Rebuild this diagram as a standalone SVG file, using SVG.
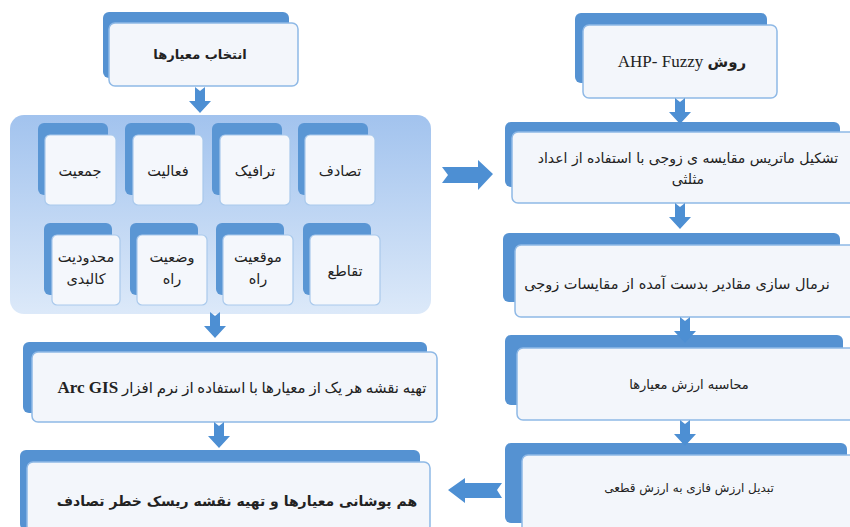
<svg xmlns="http://www.w3.org/2000/svg" width="850" height="527" viewBox="0 0 850 527">
<defs>
<linearGradient id="cg" x1="0" y1="0" x2="0" y2="1">
<stop offset="0" stop-color="#a2c3ee"/>
<stop offset="1" stop-color="#dce9f9"/>
</linearGradient>
<path id="dn" d="M-5,0 L0,4 L5,0 L5,14 L11,14 L0,26 L-11,14 L-5,14 Z"/>
</defs>
<style>
.back{fill:#5592d2;}
.front{fill:#f3f6fb;stroke:#8fb9e6;stroke-width:1.5;}
.sback{fill:#5a96d4;}
.sfront{fill:#f4f7fc;stroke:#a9c9ec;stroke-width:1.2;}
.arr{fill:#4d8fd3;}
text{font-family:"DejaVu Sans",sans-serif;font-size:13px;fill:#222;text-anchor:middle;direction:rtl;}
.b{font-weight:bold;font-size:14px;}
.lat{font-family:"Liberation Serif","DejaVu Sans",serif;}
.s{font-size:14.5px;}
</style>
<rect width="850" height="527" fill="#ffffff"/>

<g id="n-select">
<rect class="back" x="103" y="12" width="186" height="66" rx="6"/>
<rect class="front" x="109" y="23" width="189" height="63" rx="6"/>
<text class="b" x="200" y="59" style="font-size:13px">انتخاب معیارها</text>
</g>

<g id="n-criteria">
<rect x="10" y="115" width="421" height="199" rx="14" fill="url(#cg)"/>
</g>

<g id="n-c1"><rect class="sback" x="38" y="123" width="70" height="72" rx="6"/><rect class="sfront" x="45" y="135" width="71" height="70" rx="5"/><text class="s" x="80" y="176">جمعیت</text></g>
<g id="n-c2"><rect class="sback" x="125" y="123" width="70" height="72" rx="6"/><rect class="sfront" x="133" y="135" width="70" height="70" rx="5"/><text class="s" x="168" y="176">فعالیت</text></g>
<g id="n-c3"><rect class="sback" x="212" y="123" width="70" height="72" rx="6"/><rect class="sfront" x="220" y="135" width="70" height="70" rx="5"/><text class="s" x="255" y="176">ترافیک</text></g>
<g id="n-c4"><rect class="sback" x="298" y="123" width="70" height="72" rx="6"/><rect class="sfront" x="305" y="135" width="70" height="70" rx="5"/><text class="s" x="340" y="176">تصادف</text></g>

<g id="n-c5"><rect class="sback" x="44" y="223" width="68" height="72" rx="6"/><rect class="sfront" x="52" y="235" width="68" height="70" rx="5"/><text class="s" x="86" y="262">محدودیت</text><text class="s" x="86" y="284">کالبدی</text></g>
<g id="n-c6"><rect class="sback" x="130" y="223" width="68" height="72" rx="6"/><rect class="sfront" x="137" y="235" width="70" height="70" rx="5"/><text class="s" x="172" y="262">وضعیت</text><text class="s" x="172" y="284">راه</text></g>
<g id="n-c7"><rect class="sback" x="216" y="223" width="68" height="72" rx="6"/><rect class="sfront" x="223" y="235" width="70" height="70" rx="5"/><text class="s" x="258" y="262">موقعیت</text><text class="s" x="258" y="284">راه</text></g>
<g id="n-c8"><rect class="sback" x="303" y="223" width="68" height="72" rx="6"/><rect class="sfront" x="310" y="235" width="70" height="70" rx="5"/><text class="s" x="345" y="276">تقاطع</text></g>

<g id="n-map">
<rect class="back" x="23" y="342" width="404" height="71" rx="6"/>
<rect class="front" x="32" y="352" width="405" height="70" rx="6"/>
<text class="lat" x="242" y="393" style="font-size:15px">تهیه نقشه هر یک از معیارها با استفاده از نرم افزار <tspan font-weight="bold" font-size="17">Arc GIS</tspan></text>
</g>

<g id="n-overlay">
<rect class="back" x="20" y="450" width="400" height="80" rx="6"/>
<rect class="front" x="27" y="462" width="403" height="70" rx="6"/>
<text class="b" x="237" y="506">هم پوشانی معیارها و تهیه نقشه ریسک خطر تصادف</text>
</g>

<g id="n-ahp">
<rect class="back" x="575" y="13" width="192" height="70" rx="6"/>
<rect class="front" x="583" y="25" width="194" height="73" rx="6"/>
<text class="lat" x="682" y="67" style="font-size:17px"><tspan font-weight="bold" font-size="15">روش</tspan> AHP- Fuzzy</text>
</g>

<g id="n-matrix">
<rect class="back" x="505" y="122" width="335" height="65" rx="6"/>
<rect class="front" x="512" y="132" width="345" height="71" rx="6"/>
<text x="688" y="163" style="font-size:14px">تشکیل ماتریس مقایسه ی زوجی با استفاده از اعداد</text>
<text x="688" y="184" style="font-size:14px">مثلثی</text>
</g>

<g id="n-normal">
<rect class="back" x="503" y="233" width="337" height="69" rx="6"/>
<rect class="front" x="515" y="245" width="342" height="72" rx="6"/>
<text x="677" y="289" style="font-size:14.5px">نرمال سازی مقادیر بدست آمده از مقایسات زوجی</text>
</g>

<g id="n-weight">
<rect class="back" x="505" y="335" width="338" height="70" rx="6"/>
<rect class="front" x="517" y="348" width="340" height="72" rx="6"/>
<text x="689" y="389">محاسبه ارزش معیارها</text>
</g>

<g id="n-defuzz">
<rect class="back" x="505" y="443" width="342" height="80" rx="6"/>
<rect class="front" x="522" y="455" width="335" height="80" rx="6"/>
<text x="689" y="492" style="font-size:12px">تبدیل ارزش فازی به ارزش قطعی</text>
</g>

<g id="connectors" class="arr">
<use href="#dn" x="200" y="87"/>
<use href="#dn" x="215" y="312"/>
<use href="#dn" x="219" y="422"/>
<use href="#dn" x="680" y="98"/>
<use href="#dn" x="680" y="203"/>
<use href="#dn" x="685" y="317"/>
<use href="#dn" x="685" y="420"/>
<path d="M442,167 L448,175 L442,183 L478,183 L478,190 L493,174 L478,160 L478,167 Z"/>
<path d="M502,483 L497,490 L502,498 L465,498 L465,503 L448,490 L465,478 L465,483 Z"/>
</g>
</svg>
